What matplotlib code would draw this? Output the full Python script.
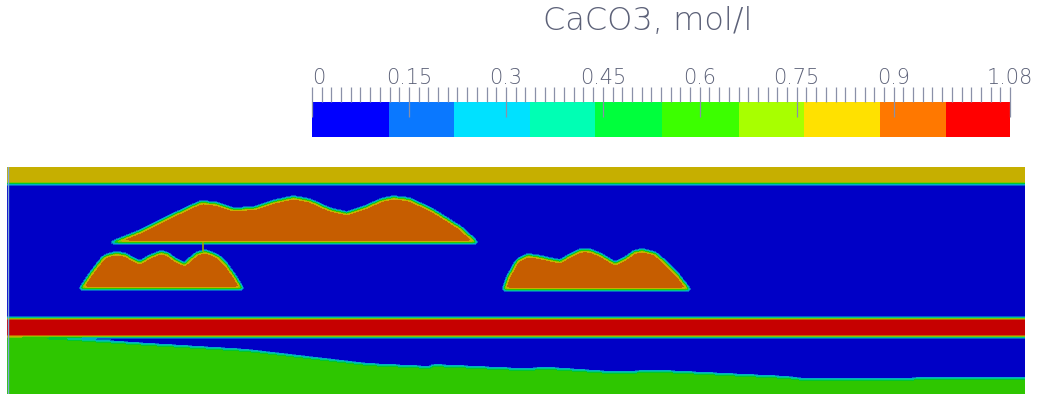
import numpy as np
import matplotlib
matplotlib.use('Agg')
import matplotlib.pyplot as plt
from matplotlib.colors import ListedColormap, BoundaryNorm, to_rgb
from matplotlib.path import Path
from matplotlib.ticker import FixedLocator

# ---------------- colour scale ----------------
scale_min, scale_max = 0.0, 1.08
bin_edges = [0.0, 0.119, 0.220, 0.338, 0.4385, 0.541, 0.660, 0.761, 0.879, 0.981, 1.08]
bin_colors = ['#0000FF', '#0A78FF', '#00E1FF', '#00FFB4', '#00FF3C',
              '#3CFF00', '#A8FF00', '#FFE100', '#FF7800', '#FF0000']
major_ticks = [0, 0.15, 0.3, 0.45, 0.6, 0.75, 0.9, 1.08]
tick_labels = ['0', '0.15', '0.3', '0.45', '0.6', '0.75', '0.9', '1.08']
minor_tick_count = 72
title = 'CaCO3, mol/l'

# ---------------- field (domain coordinates) ----------------
x_range = [7, 1025]
y_range = [167, 394]
background_value = 0.02
top_layer_value = 0.82
top_layer_bottom = 184
red_layer_value = 1.05
red_layer_top = 318
red_layer_bottom = 337
green_value = 0.60
green_top_x = [7, 10, 60, 133, 247, 333, 367, 430, 433, 520, 550, 610, 663, 787, 803, 1025]
green_top_y = [336, 336, 338, 343, 350, 360, 364, 367, 365, 369, 368, 372, 371, 377, 379, 378]
blob_value = 0.92
blob_big_x = [110, 140, 170, 200, 215, 233, 253, 275, 293, 310, 330, 347, 365, 380, 393, 410, 433, 460, 478]
blob_big_y = [243, 231, 216, 202, 203, 209, 208, 201, 197, 200, 209, 213, 207, 200, 197, 199, 210, 227, 243]
blob_left_x = [80, 90, 103, 110, 117, 125, 132, 140, 150, 160, 167, 175, 185, 192, 197, 205, 212, 220, 228, 235, 243]
blob_left_y = [289, 274, 257, 254, 253, 254, 258, 262, 256, 252, 253, 259, 264, 257, 253, 251, 253, 257, 266, 276, 289]
blob_right_x = [503, 508, 517, 527, 537, 550, 560, 570, 580, 590, 600, 615, 625, 635, 643, 655, 667, 680, 690]
blob_right_y = [290, 276, 260, 255, 256, 259, 261, 255, 250, 250, 254, 263, 258, 251, 250, 253, 263, 277, 290]
connector_x = [203, 203]
connector_y = [243, 251]

W, H = 1038, 394
fig = plt.figure(figsize=(W / 100, H / 100), dpi=100)

# ---- build field on a pixel grid ----
nx = x_range[1] - x_range[0]
ny = y_range[1] - y_range[0]
xs = x_range[0] + np.arange(nx) + 0.5
ys = y_range[0] + np.arange(ny) + 0.5
X, Y = np.meshgrid(xs, ys)
pts = np.column_stack([X.ravel(), Y.ravel()])

k = np.exp(-0.5 * (np.arange(-5, 6) / 1.5) ** 2)
k /= k.sum()


def soften(mask):
    m = mask.astype(float)
    m = np.pad(m, 5, mode='edge')
    m = np.apply_along_axis(lambda r: np.convolve(r, k, mode='same'), 1, m)
    m = np.apply_along_axis(lambda c: np.convolve(c, k, mode='same'), 0, m)
    return m[5:-5, 5:-5]


regions = []
regions.append((Y < top_layer_bottom, top_layer_value))
regions.append((Y > np.interp(X, green_top_x, green_top_y), green_value))
regions.append(((Y >= red_layer_top) & (Y <= red_layer_bottom), red_layer_value))
for bx, by in [(blob_big_x, blob_big_y), (blob_left_x, blob_left_y), (blob_right_x, blob_right_y)]:
    poly = Path(np.column_stack([bx, by]))
    regions.append((poly.contains_points(pts).reshape(X.shape), blob_value))

V = np.full(X.shape, background_value)
for mask, val in regions:
    m = soften(mask)
    V = V * (1 - m) + val * m

field_colors = [tuple(0.78 * c for c in to_rgb(col)) for col in bin_colors]
field_cmap = ListedColormap(field_colors)
norm = BoundaryNorm(bin_edges, len(bin_colors))

ax = fig.add_axes([x_range[0] / W, 1 - y_range[1] / H,
                   (x_range[1] - x_range[0]) / W, (y_range[1] - y_range[0]) / H])
ax.imshow(V, extent=(x_range[0], x_range[1], y_range[1], y_range[0]), cmap=field_cmap,
          norm=norm, interpolation='nearest', aspect='auto')
ax.plot(connector_x, connector_y, color='#9aa800', lw=1.2)
ax.axvline(x_range[0] + 0.5, color='#7fa6d8', lw=1)
ax.set_xlim(x_range)
ax.set_ylim(y_range[1], y_range[0])
ax.axis('off')

# ---- colour bar ----
cax = fig.add_axes([312 / W, 1 - 137 / H, 698 / W, 35 / H])
lefts = bin_edges[:-1]
widths = np.diff(bin_edges)
cax.bar(lefts, 1, width=widths, align='edge', color=bin_colors, linewidth=0)
cax.set_xlim(scale_min, scale_max)
cax.set_ylim(0, 1)
for s in cax.spines.values():
    s.set_visible(False)
cax.set_yticks([])
cax.xaxis.set_ticks_position('top')
cax.set_xticks(major_ticks)
cax.set_xticklabels(tick_labels)
minor = np.linspace(scale_min, scale_max, minor_tick_count + 1)
cax.xaxis.set_minor_locator(FixedLocator(minor))
tick_col = '#8a90a8'
text_col = '#5c6178'
cax.tick_params(axis='x', which='major', direction='inout', length=21.6, width=0.9,
                color=tick_col, pad=-0.5, labelsize=15, labelcolor=text_col)
cax.tick_params(axis='x', which='minor', direction='out', length=10.8, width=0.9,
                color=tick_col)
for lab in cax.get_xticklabels():
    lab.set_fontweight('light')
cax.get_xticklabels()[0].set_horizontalalignment('left')

fig.text(648 / W, 1 - 21 / H, title, ha='center', va='center', fontsize=23,
         color=text_col, fontweight='light')

fig.savefig('out.png', dpi=100)
